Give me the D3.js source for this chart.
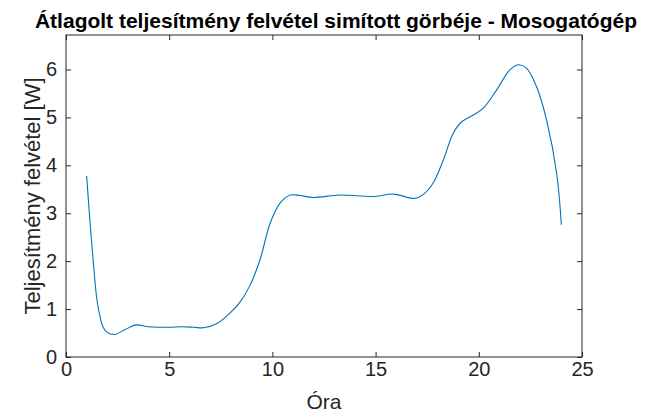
<!DOCTYPE html>
<html>
<head>
<meta charset="utf-8">
<script src="https://cdn.jsdelivr.net/npm/d3@7"></script>
<style>
  body { margin: 0; background: #fff; }
  text { font-family: "Liberation Sans", Arial, sans-serif; }
</style>
</head>
<body>
<div id="chart"></div>
<script>
// hours and averaged smoothed power
var hours = [1.0, 1.18, 1.34, 1.5, 1.66, 1.8, 1.98, 2.35, 2.9, 3.4, 4.0, 5.0, 5.6, 6.2, 6.66,
  7.31, 7.95, 8.44, 8.92, 9.4, 9.89, 10.37, 10.86, 11.34, 11.98, 13.28, 14.89, 15.86,
  16.91, 17.39, 17.79, 18.28, 18.76, 19.17, 19.73, 20.21, 20.86, 21.5, 21.91, 22.31,
  22.8, 23.28, 23.77, 24.0];
var power = [3.78, 2.72, 1.89, 1.19, 0.82, 0.62, 0.52, 0.47, 0.58, 0.67, 0.63, 0.62, 0.63, 0.62, 0.61,
  0.70, 0.92, 1.15, 1.50, 2.03, 2.79, 3.21, 3.38, 3.37, 3.33, 3.38, 3.35, 3.40,
  3.31, 3.42, 3.63, 4.11, 4.67, 4.91, 5.05, 5.19, 5.57, 5.99, 6.10, 6.03,
  5.64, 4.95, 3.84, 2.76];
var xTicks = [0, 5, 10, 15, 20, 25];
var yTicks = [0, 1, 2, 3, 4, 5, 6];

var title = "Átlagolt teljesítmény felvétel simított görbéje - Mosogatógép";
var xLabel = "Óra";
var yLabel = "Teljesítmény felvétel [W]";

var W = 651, H = 419;
var margin = {left: 66, right: 69, top: 35, bottom: 62};

var svg = d3.select("#chart").append("svg")
  .attr("width", W).attr("height", H);

var x = d3.scaleLinear().domain([0, 25]).range([margin.left, W - margin.right]);
var y = d3.scaleLinear().domain([0, 6.72]).range([H - margin.bottom, margin.top]);

var ink = "#262626";
var fmt = d3.format("d");

// ticks pointing inward, on all four sides
svg.append("g").attr("transform", "translate(0," + y(0) + ")")
  .call(d3.axisBottom(x).tickValues(xTicks).tickSizeInner(-5).tickSizeOuter(0).tickPadding(5).tickFormat(fmt))
  .call(function(g) {
    g.select(".domain").remove();
    g.selectAll("line").attr("stroke", ink);
    g.selectAll("text").attr("font-size", 20).attr("fill", ink);
  });
svg.append("g").attr("transform", "translate(0," + y(6.72) + ")")
  .call(d3.axisTop(x).tickValues(xTicks).tickSizeInner(-5).tickSizeOuter(0).tickFormat(""))
  .call(function(g) {
    g.select(".domain").remove();
    g.selectAll("line").attr("stroke", ink);
  });
svg.append("g").attr("transform", "translate(" + x(0) + ",0)")
  .call(d3.axisLeft(y).tickValues(yTicks).tickSizeInner(-5).tickSizeOuter(0).tickPadding(9).tickFormat(fmt))
  .call(function(g) {
    g.select(".domain").remove();
    g.selectAll("line").attr("stroke", ink);
    g.selectAll("text").attr("font-size", 20).attr("fill", ink);
  });
svg.append("g").attr("transform", "translate(" + x(25) + ",0)")
  .call(d3.axisRight(y).tickValues(yTicks).tickSizeInner(-5).tickSizeOuter(0).tickFormat(""))
  .call(function(g) {
    g.select(".domain").remove();
    g.selectAll("line").attr("stroke", ink);
  });

// box
svg.append("rect")
  .attr("x", x(0)).attr("y", y(6.72))
  .attr("width", x(25) - x(0)).attr("height", y(0) - y(6.72))
  .attr("fill", "none").attr("stroke", ink).attr("stroke-width", 1);

var line = d3.line()
  .x(function(d, i) { return x(hours[i]); })
  .y(function(d) { return y(d); })
  .curve(d3.curveCatmullRom.alpha(0.5));

svg.append("path")
  .attr("d", line(power))
  .attr("fill", "none")
  .attr("stroke", "#0072BD")
  .attr("stroke-width", 1.1);

// labels
svg.append("text")
  .attr("x", 336).attr("y", 28)
  .attr("text-anchor", "middle")
  .attr("font-size", 21).attr("font-weight", "bold")
  .attr("fill", "#000")
  .text(title);

svg.append("text")
  .attr("x", (x(0) + x(25)) / 2).attr("y", 409)
  .attr("text-anchor", "middle")
  .attr("font-size", 21).attr("fill", ink)
  .text(xLabel);

svg.append("text")
  .attr("transform", "translate(40," + (y(0) + y(6.72)) / 2 + ") rotate(-90)")
  .attr("text-anchor", "middle")
  .attr("font-size", 22).attr("fill", ink)
  .text(yLabel);
</script>
</body>
</html>
